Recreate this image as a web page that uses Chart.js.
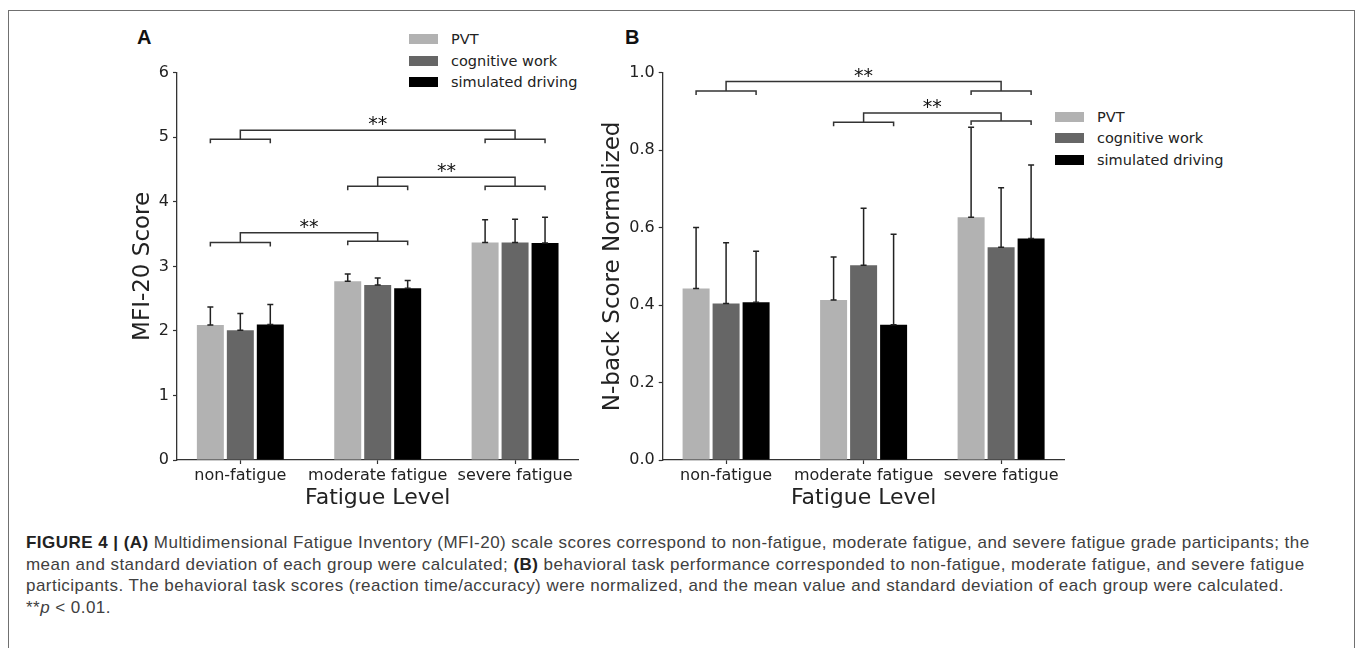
<!DOCTYPE html>
<html>
<head>
<meta charset="utf-8">
<script src="https://cdn.jsdelivr.net/npm/chart.js"></script>
<style>
  body { margin: 0; background: #fff; width: 1357px; height: 648px; overflow: hidden; position: relative; }
  .frame { position: absolute; left: 8px; top: 10px; width: 1347px; height: 700px; border: 1.5px solid #707070; box-sizing: border-box; }
  canvas { position: absolute; }
  .panel-label { position: absolute; font-family: 'Liberation Sans', Arial, sans-serif; font-weight: bold; font-size: 20px; line-height: 20px; color: #111; }
  .legend { position: absolute; font-family: 'DejaVu Sans', sans-serif; font-size: 14.5px; color: #222; }
  .legend-row { display: flex; align-items: center; height: 21.5px; white-space: nowrap; }
  .legend-patch { width: 29px; height: 10px; margin-right: 13px; }
  .caption { position: absolute; left: 26px; top: 532px; width: 1320px; font-family: 'Liberation Sans', Arial, sans-serif; font-size: 17px; letter-spacing: 0.46px; line-height: 21.7px; color: #404040; white-space: nowrap; }
  .caption b { color: #222; }
</style>
</head>
<body>
<div class="frame"></div>
<div class="panel-label" style="left:137px; top:27px;">A</div>
<div class="panel-label" style="left:625px; top:27px;">B</div>
<div class="legend" id="legendA" style="left:409px; top:28.5px;"></div>
<div class="legend" id="legendB" style="left:1055px; top:106px;"></div>
<canvas id="chartA" width="500" height="480" style="left:100px; top:40px;"></canvas>
<canvas id="chartB" width="500" height="480" style="left:580px; top:40px;"></canvas>
<div class="caption">
<b>FIGURE 4 | (A)</b> Multidimensional Fatigue Inventory (MFI-20) scale scores correspond to non-fatigue, moderate fatigue, and severe fatigue grade participants; the<br>
mean and standard deviation of each group were calculated; <b>(B)</b> behavioral task performance corresponded to non-fatigue, moderate fatigue, and severe fatigue<br>
participants. The behavioral task scores (reaction time/accuracy) were normalized, and the mean value and standard deviation of each group were calculated.<br>
**<i>p</i> &lt; 0.01.
</div>

<script>
// nhóm và chuỗi dữ liệu
const categories = ['non-fatigue', 'moderate fatigue', 'severe fatigue'];
const seriesNames = ['PVT', 'cognitive work', 'simulated driving'];
const seriesColors = ['#b2b2b2', '#666666', '#000000'];

// (A) điểm MFI-20: trung bình và độ lệch chuẩn
const mfiPVT = [2.09, 2.77, 3.37];
const mfiCognitive = [2.01, 2.71, 3.37];
const mfiDriving = [2.10, 2.66, 3.36];
const mfiPVTErr = [0.28, 0.11, 0.35];
const mfiCognitiveErr = [0.26, 0.11, 0.36];
const mfiDrivingErr = [0.31, 0.12, 0.40];
const mfiTicks = [0, 1, 2, 3, 4, 5, 6];

// (B) điểm N-back chuẩn hoá
const nbackPVT = [0.443, 0.413, 0.627];
const nbackCognitive = [0.404, 0.503, 0.549];
const nbackDriving = [0.407, 0.349, 0.572];
const nbackPVTErr = [0.157, 0.111, 0.232];
const nbackCognitiveErr = [0.157, 0.147, 0.154];
const nbackDrivingErr = [0.132, 0.234, 0.190];
const nbackTicks = [0.0, 0.2, 0.4, 0.6, 0.8, 1.0];

// dấu ** : [nhóm trái, nhóm phải, mức ngoặc trái, mức ngoặc phải, mức đỉnh]
const mfiBrackets = [[0, 2, 4.97, 4.97, 5.11], [1, 2, 4.24, 4.24, 4.38], [0, 1, 3.37, 3.39, 3.52]];
const nbackBrackets = [[0, 2, 0.953, 0.953, 0.977], [1, 2, 0.872, 0.875, 0.896]];

const inkColor = '#333333';

// vẽ thanh sai số (chỉ phía trên)
const errorBarsPlugin = {
    id: 'errorBars',
    afterDatasetsDraw(chart) {
        const ctx = chart.ctx;
        const yScale = chart.scales.y;
        ctx.save();
        ctx.strokeStyle = '#222';
        ctx.lineWidth = 1.5;
        chart.data.datasets.forEach((ds, d) => {
            const meta = chart.getDatasetMeta(d);
            meta.data.forEach((bar, i) => {
                const top = yScale.getPixelForValue(ds.data[i].y + ds.errors[i]);
                ctx.beginPath();
                ctx.moveTo(bar.x, bar.y);
                ctx.lineTo(bar.x, top);
                ctx.moveTo(bar.x - 3, top);
                ctx.lineTo(bar.x + 3, top);
                ctx.moveTo(bar.x - 3, bar.y);
                ctx.lineTo(bar.x + 3, bar.y);
                ctx.stroke();
            });
        });
        ctx.restore();
    }
};

// vẽ ngoặc so sánh và dấu sao
const bracketsPlugin = {
    id: 'sigBrackets',
    afterDatasetsDraw(chart, args, opts) {
        const ctx = chart.ctx;
        const yScale = chart.scales.y;
        const first = chart.getDatasetMeta(0).data;
        const mid = chart.getDatasetMeta(1).data;
        const last = chart.getDatasetMeta(2).data;
        ctx.save();
        ctx.strokeStyle = inkColor;
        ctx.lineWidth = 1.5;
        opts.brackets.forEach(b => {
            const [g1, g2, lowL, lowR, high] = b;
            const yL = yScale.getPixelForValue(lowL);
            const yR = yScale.getPixelForValue(lowR);
            const yTop = yScale.getPixelForValue(high);
            ctx.beginPath();
            // ngoặc nhỏ bên trái
            ctx.moveTo(first[g1].x, yL + 4);
            ctx.lineTo(first[g1].x, yL);
            ctx.lineTo(last[g1].x, yL);
            ctx.lineTo(last[g1].x, yL + 4);
            // ngoặc nhỏ bên phải
            ctx.moveTo(first[g2].x, yR + 4);
            ctx.lineTo(first[g2].x, yR);
            ctx.lineTo(last[g2].x, yR);
            ctx.lineTo(last[g2].x, yR + 4);
            // ngoặc lớn
            ctx.moveTo(mid[g1].x, yL);
            ctx.lineTo(mid[g1].x, yTop);
            ctx.lineTo(mid[g2].x, yTop);
            ctx.lineTo(mid[g2].x, yR);
            ctx.stroke();
            ctx.fillStyle = '#111';
            ctx.font = '19px "DejaVu Sans"';
            ctx.textAlign = 'center';
            ctx.textBaseline = 'alphabetic';
            ctx.fillText('**', (mid[g1].x + mid[g2].x) / 2, yTop);
        });
        ctx.restore();
    }
};

function buildLegend(id) {
    const box = document.getElementById(id);
    seriesNames.forEach((name, i) => {
        box.insertAdjacentHTML('beforeend',
            `<div class="legend-row"><span class="legend-patch" style="background:${seriesColors[i]}"></span>${name}</div>`);
    });
}

function makePanel(canvasId, values, errors, ticks, yTitle, brackets, geom) {
    const datasets = values.map((vals, d) => ({
        label: seriesNames[d],
        data: vals.map((v, i) => ({ x: i, y: v })),
        errors: errors[d],
        backgroundColor: seriesColors[d],
        borderWidth: 0,
        categoryPercentage: 0.6545,
        barPercentage: 0.9
    }));

    return new Chart(document.getElementById(canvasId), {
        type: 'bar',
        data: { datasets: datasets },
        plugins: [errorBarsPlugin, bracketsPlugin],
        options: {
            responsive: false,
            animation: false,
            layout: { padding: geom.padding },
            plugins: {
                legend: { display: false },
                tooltip: { enabled: false },
                sigBrackets: { brackets: brackets }
            },
            scales: {
                x: {
                    type: 'linear',
                    offset: false,
                    min: -0.461,
                    max: 2.461,
                    afterBuildTicks: (scale) => { scale.ticks = categories.map((c, i) => ({ value: i })); },
                    afterFit: (scale) => { scale.height = geom.xHeight; },
                    ticks: {
                        callback: (v) => categories[v],
                        autoSkip: false,
                        color: '#222',
                        padding: 2,
                        maxRotation: 0,
                        font: { size: 16 }
                    },
                    grid: { display: true, offset: false, drawOnChartArea: false, tickLength: 4, color: inkColor, tickWidth: 1.2 },
                    border: { display: true, color: inkColor, width: 1.3 },
                    title: { display: true, text: 'Fatigue Level', color: '#222', padding: 0, font: { size: 22 } }
                },
                y: {
                    min: ticks[0],
                    max: ticks[ticks.length - 1],
                    afterBuildTicks: (scale) => { scale.ticks = ticks.map(v => ({ value: v })); },
                    afterFit: (scale) => { scale.width = geom.yWidth; },
                    ticks: {
                        callback: (v) => geom.decimals ? v.toFixed(geom.decimals) : String(v),
                        color: '#222',
                        padding: 4,
                        font: { size: 16 }
                    },
                    grid: { display: true, drawOnChartArea: false, tickLength: 4, color: inkColor, tickWidth: 1.2 },
                    border: { display: true, color: inkColor, width: 1.3 },
                    title: { display: true, text: yTitle, color: '#222', padding: 0, font: { size: 23 } }
                }
            }
        }
    });
}

Chart.defaults.font.family = '"DejaVu Sans", sans-serif';

buildLegend('legendA');
buildLegend('legendB');

makePanel('chartA',
    [mfiPVT, mfiCognitive, mfiDriving],
    [mfiPVTErr, mfiCognitiveErr, mfiDrivingErr],
    mfiTicks, 'MFI-20 Score', mfiBrackets,
    { padding: { left: 29.2, top: 32.7, right: 21.6, bottom: 8.8 }, yWidth: 47.8, xHeight: 51.2, decimals: 0 });

makePanel('chartB',
    [nbackPVT, nbackCognitive, nbackDriving],
    [nbackPVTErr, nbackCognitiveErr, nbackDrivingErr],
    nbackTicks, 'N-back Score Normalized', nbackBrackets,
    { padding: { left: 19.2, top: 32.7, right: 15.5, bottom: 8.8 }, yWidth: 63.5, xHeight: 51.2, decimals: 1 });
</script>
</body>
</html>
